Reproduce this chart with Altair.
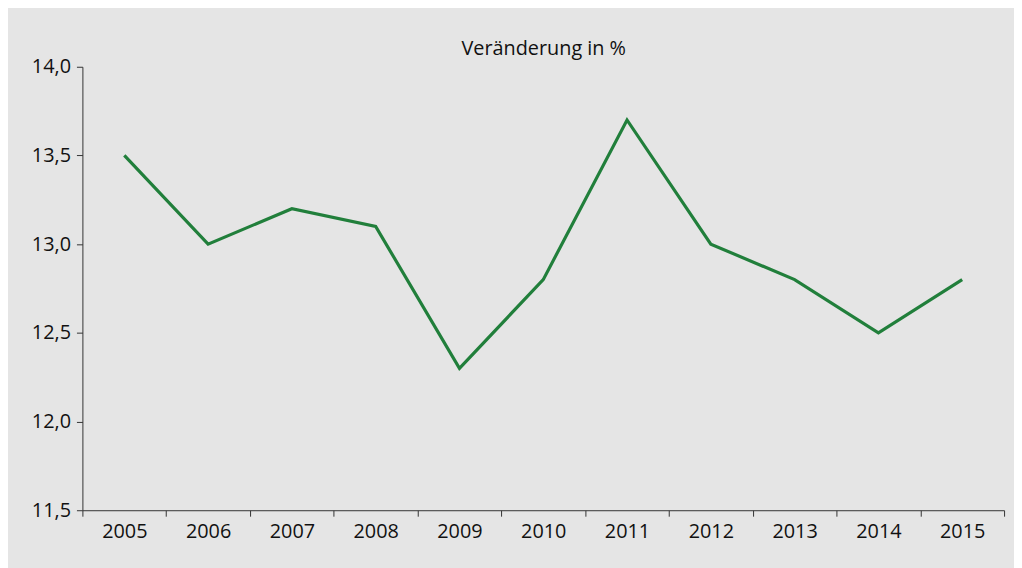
import altair as alt
import pandas as pd

years = ["2005", "2006", "2007", "2008", "2009", "2010", "2011", "2012", "2013", "2014", "2015"]
values = [13.5, 13.0, 13.2, 13.1, 12.3, 12.8, 13.7, 13.0, 12.8, 12.5, 12.8]
y_ticks = [11.5, 12.0, 12.5, 13.0, 13.5, 14.0]
title_text = "Veränderung in %"

df = pd.DataFrame({"year": years, "value": values})

FONT = "Open Sans"
FS = 20

line = alt.Chart(df).mark_line(color="#217f3b", strokeWidth=3.2).encode(
    x=alt.X(
        "year:O",
        scale=alt.Scale(type="band", paddingInner=0, paddingOuter=0),
        bandPosition=0.5,
        axis=alt.Axis(
            title=None,
            labelAngle=0,
            tickBand="extent",
            tickSize=6,
            tickColor="#333333",
            domainColor="#333333",
            labelFontSize=FS,
            labelFont=FONT,
            labelColor="#111111",
            labelPadding=5,
            grid=False,
        ),
    ),
    y=alt.Y(
        "value:Q",
        scale=alt.Scale(domain=[11.5, 14.0], nice=False, zero=False),
        axis=alt.Axis(
            title=None,
            values=y_ticks,
            labelExpr="replace(format(datum.value, '.1f'), '.', ',')",
            tickSize=6,
            tickColor="#333333",
            domainColor="#333333",
            labelFontSize=FS,
            labelFont=FONT,
            labelColor="#111111",
            labelPadding=6,
            grid=False,
        ),
    ),
)

title = alt.Chart(pd.DataFrame({"t": [title_text]})).mark_text(
    fontSize=FS, font=FONT, color="#111111", baseline="middle", align="center"
).encode(
    text="t:N",
    x=alt.value(465),
    y=alt.value(-18),
)

chart = alt.layer(line, title).properties(
    width=929,
    height=447,
    background="#e5e5e5",
    padding={"left": 75, "top": 57, "right": 10, "bottom": 56},
    autosize=alt.AutoSizeParams(type="none"),
).configure_view(stroke=None)

chart.save("out.html", embed_options={"renderer": "svg", "actions": False})
